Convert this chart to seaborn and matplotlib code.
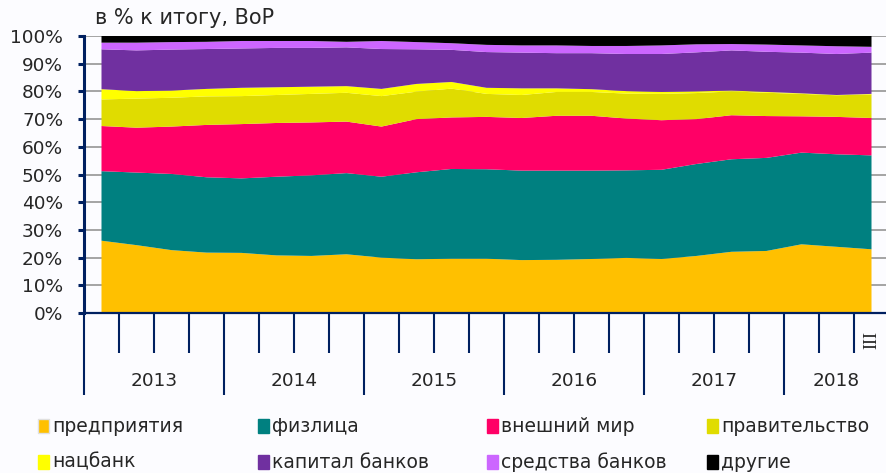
import numpy as np
import pandas as pd
import matplotlib.pyplot as plt
from matplotlib.patches import Rectangle
import seaborn as sns
import seaborn.objects as so

# кварталы 2013 I ... 2018 III
quarters = list(range(23))
years = ["2013", "2014", "2015", "2016", "2017", "2018"]
year_centers = [1.5, 5.5, 9.5, 13.5, 17.5, 21.0]

sectors = ["предприятия", "физлица", "внешний мир", "правительство",
           "нацбанк", "капитал банков", "средства банков", "другие"]
colors = ["#FFC000", "#008080", "#FF0066", "#E0DC00",
          "#FFFF00", "#7030A0", "#CC66FF", "#000000"]

predpriyatiya = [26.1, 24.5, 22.7, 21.8, 21.7, 20.8, 20.6, 21.2, 20.0, 19.4, 19.6, 19.6,
                 19.1, 19.2, 19.5, 19.9, 19.5, 20.6, 22.1, 22.4, 24.8, 23.9, 23.0]
fizlica = [25.1, 26.2, 27.5, 27.2, 26.9, 28.4, 29.1, 29.3, 29.2, 31.4, 32.4, 32.3,
           32.3, 32.2, 31.9, 31.6, 32.2, 33.2, 33.4, 33.6, 33.1, 33.4, 33.9]
vneshniy_mir = [16.3, 16.2, 17.1, 18.9, 19.6, 19.4, 19.1, 18.6, 18.1, 19.2, 18.6, 18.9,
                19.0, 19.8, 19.8, 18.7, 17.9, 16.2, 15.9, 15.1, 13.1, 13.5, 13.5]
pravitelstvo = [9.6, 10.5, 10.4, 10.3, 10.1, 10.1, 10.3, 10.4, 11.0, 9.9, 10.4, 8.3,
                8.3, 8.6, 8.6, 9.0, 9.5, 9.4, 8.6, 8.4, 8.1, 7.8, 8.5]
nacbank = [3.7, 2.7, 2.6, 2.7, 3.0, 2.8, 2.6, 2.4, 2.6, 2.8, 2.4, 2.2,
           2.4, 1.3, 1.0, 0.9, 0.7, 0.6, 0.3, 0.3, 0.2, 0.1, 0.2]
kapital_bankov = [14.4, 14.7, 14.8, 14.4, 14.2, 14.2, 14.0, 14.0, 14.4, 12.5, 11.6, 12.9,
                  12.9, 12.7, 13.0, 13.4, 13.7, 14.1, 14.5, 14.5, 14.7, 14.8, 14.9]
sredstva_bankov = [2.4, 2.8, 2.7, 2.6, 2.7, 2.5, 2.5, 2.0, 2.9, 2.6, 2.4, 2.6,
                   2.6, 2.8, 2.6, 2.9, 3.1, 2.9, 2.3, 2.6, 2.6, 2.8, 2.1]
drugie = [2.4, 2.4, 2.2, 2.1, 1.8, 1.8, 1.8, 2.1, 1.8, 2.2, 2.6, 3.2,
          3.4, 3.4, 3.6, 3.6, 3.4, 3.0, 2.9, 3.1, 3.4, 3.7, 3.9]

series = [predpriyatiya, fizlica, vneshniy_mir, pravitelstvo,
          nacbank, kapital_bankov, sredstva_bankov, drugie]

df = pd.DataFrame({
    "quarter": np.tile(quarters, len(sectors)),
    "sector": np.repeat(sectors, len(quarters)),
    "share": np.concatenate(series),
})

navy = "#002060"
bg = "#FCFCFF"

sns.set_style("white")
plt.rcParams["font.family"] = ["DejaVu Sans"]

W, H = 887, 473
fig = plt.figure(figsize=(W / 100, H / 100), dpi=100, facecolor=bg)
ax = fig.add_axes([84 / W, 1 - 313 / H, (W - 84) / W, 277 / H])
ax.set_facecolor(bg)

(
    so.Plot(df, x="quarter", y="share", color="sector")
    .add(so.Area(alpha=1, edgewidth=0), so.Stack(), legend=False)
    .scale(color=dict(zip(sectors, colors)))
    .on(ax)
    .plot()
)

# области поверх сетки, без самоклипа
for art in list(ax.patches):
    art.set_zorder(2)
    art.set_alpha(1)
    art.set_clip_path(None)
    art.set_clip_box(ax.bbox)

ax.set_xlim(-0.5, -0.5 + (W - 84) / 35)
ax.set_ylim(0, 100)
ax.set_xlabel("")
ax.set_ylabel("")

# сетка
ax.grid(False)
for v in range(10, 101, 10):
    ax.axhline(v, color="#8C8C8C", linewidth=1.1, zorder=0.5)

# оси
for s in ["top", "right"]:
    ax.spines[s].set_visible(False)
ax.spines["left"].set_color(navy)
ax.spines["left"].set_linewidth(2.2)
ax.spines["left"].set_zorder(3)
ax.spines["bottom"].set_color(navy)
ax.spines["bottom"].set_linewidth(1.6)
ax.spines["bottom"].set_zorder(3)

ax.set_yticks(range(0, 101, 10))
ax.set_yticklabels([f"{v}%" for v in range(0, 101, 10)])
ax.tick_params(axis="y", direction="out", length=4, width=2.2, color=navy,
               labelsize=13.3, pad=11, left=True)

year_edges = [-0.5, 3.5, 7.5, 11.5, 15.5, 19.5]
q_edges = [e for e in np.arange(-0.5, 22.5, 1.0) if e not in year_edges]
ax.set_xticks(year_edges)
ax.set_xticks(q_edges, minor=True)
ax.tick_params(axis="x", which="major", direction="out", length=59, width=1.5,
               color=navy, labelbottom=False, bottom=True)
ax.tick_params(axis="x", which="minor", direction="out", length=29, width=1.5,
               color=navy, labelbottom=False, bottom=True)

tr = ax.get_xaxis_transform()
for yr, xc in zip(years, year_centers):
    ax.text(xc, -68 / 277, yr, transform=tr, ha="center", va="center",
            fontsize=13.3, clip_on=False)
ax.text(22, -27 / 277, "III", transform=tr, ha="center", va="center",
        rotation=90, fontsize=13, family="Liberation Serif", clip_on=False)

fig.text(95 / W, 1 - 18 / H, "в % к итогу, ВоР", ha="left", va="center", fontsize=15)

# легенда
leg_x = [38, 258, 487, 707]
leg_y = [426, 462]
for i, (name, c) in enumerate(zip(sectors, colors)):
    col, row = i % 4, i // 4
    x0, yc = leg_x[col], leg_y[row]
    fig.patches.append(Rectangle((x0 / W, 1 - (yc + 7) / H), 11 / W, 14 / H,
                                 transform=fig.transFigure, facecolor=c,
                                 edgecolor="#E0E0E0" if i == 0 else c,
                                 linewidth=1, figure=fig))
    fig.text((x0 + 14) / W, 1 - yc / H, name, ha="left", va="center", fontsize=13.5)

fig.savefig("out.png", dpi=100, facecolor=bg)
